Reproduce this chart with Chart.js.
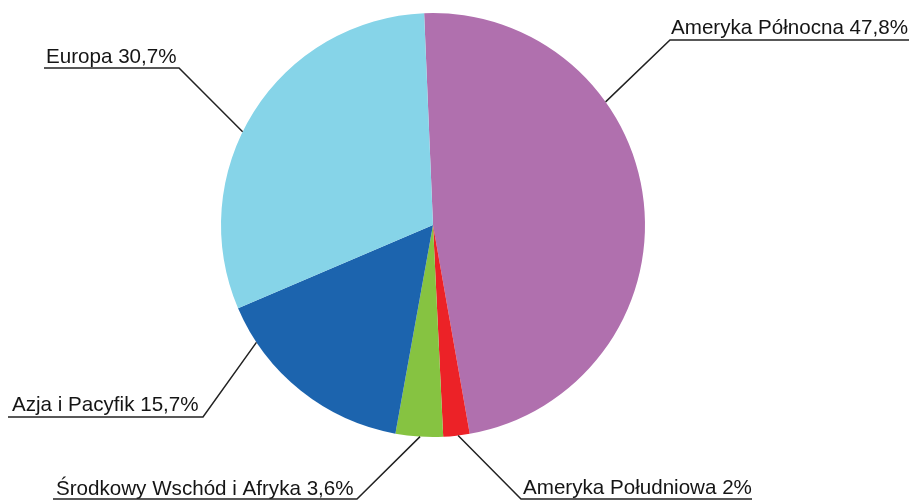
<!DOCTYPE html>
<html>
<head>
<meta charset="utf-8">
<script src="https://cdn.jsdelivr.net/npm/chart.js@4"></script>
<style>
html,body{margin:0;padding:0;background:#fff;}
#wrap{width:909px;height:500px;position:relative;}
</style>
</head>
<body>
<div id="wrap"><canvas id="c" width="909" height="500"></canvas></div>
<script>
const categories = ['Ameryka Północna', 'Ameryka Południowa', 'Środkowy Wschód i Afryka', 'Azja i Pacyfik', 'Europa'];
const shares = [47.8, 2, 3.6, 15.7, 30.7];
const sliceColors = ['#B070AE', '#EC2227', '#86C341', '#1C64AE', '#86D4E8'];

const labelTexts = categories.map((c, i) => c + ' ' + String(shares[i]).replace('.', ',') + '%');

// label layout: text x, baseline y, underline y, underline x range, leader side, leader target angle (deg clockwise from top)
const labelLayout = [
  {tx: 671, ty: 34, uy: 40, ux0: 670, ux1: 909, side: 'left', ang: 54.5},
  {tx: 523, ty: 494, uy: 499, ux0: 521, ux1: 752, side: 'left', ang: 173.2},
  {tx: 56, ty: 495, uy: 499, ux0: 53, ux1: 357, side: 'right', ang: 183.5},
  {tx: 12, ty: 411, uy: 417, ux0: 8, ux1: 203, side: 'right', ang: 236.4},
  {tx: 46, ty: 63, uy: 68, ux0: 44, ux1: 179, side: 'right', ang: 296.1}
];

const leaderPlugin = {
  id: 'leaders',
  afterDraw(chart) {
    const arc = chart.getDatasetMeta(0).data[0];
    const cx = arc.x, cy = arc.y, r = arc.outerRadius;
    const ctx = chart.ctx;
    ctx.save();
    ctx.font = '20.6px "Liberation Sans", Arial, sans-serif';
    ctx.fillStyle = '#151515';
    ctx.strokeStyle = '#222';
    ctx.lineWidth = 1.5;
    ctx.textBaseline = 'alphabetic';
    ctx.textAlign = 'left';
    labelLayout.forEach((L, i) => {
      ctx.fillText(labelTexts[i], L.tx, L.ty);
      const a = (L.ang - 90) * Math.PI / 180;
      const px = cx + r * Math.cos(a), py = cy + r * Math.sin(a);
      const sx = L.side === 'left' ? L.ux0 : L.ux1;
      ctx.beginPath();
      const x0 = L.side === 'left' ? L.ux1 : L.ux0;
      ctx.moveTo(x0, L.uy);
      ctx.lineTo(sx, L.uy);
      ctx.lineTo(px, py);
      ctx.stroke();
    });
    ctx.restore();
  }
};

new Chart(document.getElementById('c'), {
  type: 'pie',
  data: {
    labels: categories,
    datasets: [{
      data: shares,
      backgroundColor: sliceColors,
      borderWidth: 0
    }]
  },
  options: {
    responsive: false,
    devicePixelRatio: 1,
    animation: false,
    rotation: -2.4,
    layout: {padding: {left: 0, right: 43, top: 13, bottom: 63}},
    plugins: {legend: {display: false}, tooltip: {enabled: false}}
  },
  plugins: [leaderPlugin]
});
</script>
</body>
</html>
